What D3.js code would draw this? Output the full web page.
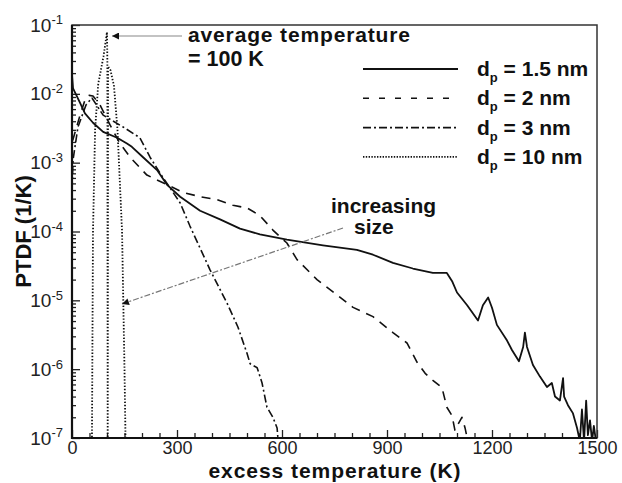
<!DOCTYPE html>
<html>
<head>
<meta charset="utf-8">
<script src="https://cdn.jsdelivr.net/npm/d3@7"></script>
<style>
  body { margin: 0; background: #fff; }
  svg { font-family: "Liberation Sans", Arial, Helvetica, sans-serif; }
  .tick text { font-size: 19px; fill: #222; }
  .bold { font-weight: bold; fill: #111; }
</style>
</head>
<body>
<div id="chart"></div>
<script>
var svgWidth = 622;
var svgHeight = 483;

var margin = { top: 25, right: 25, bottom: 45, left: 72 };
var width = svgWidth - margin.left - margin.right;
var height = svgHeight - margin.top - margin.bottom;

// excess temperature (K) and PTDF (1/K) for each particle diameter
var tempSmall = [0, 3, 23, 37, 60, 89, 129, 157, 171, 203, 243, 271, 309, 366, 423, 480, 537, 614, 717, 814,
  860, 917, 974, 1031, 1071, 1086, 1100, 1129, 1160, 1174, 1189, 1200, 1214, 1243, 1257, 1277, 1289, 1294, 1300,
  1317, 1337, 1357, 1371, 1380, 1394, 1403, 1406, 1417, 1431, 1443, 1451, 1457, 1463, 1469, 1474, 1480, 1486, 1491, 1497];
var ptdfSmall = [1.9e-2, 1.2e-2, 7.4e-3, 5.2e-3, 3.8e-3, 2.8e-3, 2.3e-3, 1.9e-3, 1.7e-3, 1.2e-3, 7.8e-4, 4.8e-4,
  3.2e-4, 2.0e-4, 1.5e-4, 1.1e-4, 9.1e-5, 7.6e-5, 6.3e-5, 5.4e-5, 4.6e-5, 3.5e-5, 2.9e-5, 2.5e-5, 2.5e-5, 1.9e-5,
  1.3e-5, 8.5e-6, 5.1e-6, 8.5e-6, 1.1e-5, 7.8e-6, 4.4e-6, 2.6e-6, 1.9e-6, 1.3e-6, 2.1e-6, 3.4e-6, 2.1e-6, 1.15e-6,
  7.8e-7, 5.5e-7, 6.3e-7, 4.0e-7, 3.5e-7, 7.4e-7, 4.0e-7, 3.0e-7, 2.3e-7, 1.4e-7, 9e-8, 2.6e-7, 9e-8, 3.5e-7,
  1.1e-7, 1.8e-7, 9e-8, 1.5e-7, 9e-8];

var temp2 = [2, 23, 37, 49, 60, 80, 109, 137, 166, 214, 271, 317, 366, 414, 460, 500, 537, 574, 614, 643, 700,
  757, 803, 860, 917, 957, 986, 1009, 1031, 1057, 1071, 1086, 1094, 1114, 1123, 1131];
var ptdf2 = [2.1e-3, 4.9e-3, 8.1e-3, 9.5e-3, 9.3e-3, 6.9e-3, 3.5e-3, 1.9e-3, 1.2e-3, 6.6e-4, 4.8e-4, 3.7e-4,
  3.2e-4, 2.9e-4, 2.4e-4, 2.2e-4, 1.7e-4, 1.05e-4, 6.8e-5, 3.9e-5, 2.0e-5, 1.2e-5, 7.9e-6, 5.8e-6, 3.4e-6, 2.4e-6,
  1.26e-6, 8.7e-7, 6.9e-7, 5.4e-7, 2.8e-7, 2.1e-7, 1.3e-7, 2.0e-7, 1.4e-7, 9e-8];

var temp3 = [0, 3, 17, 40, 57, 89, 146, 194, 223, 251, 280, 309, 337, 394, 443, 474, 500, 509, 529, 543, 557,
  574, 586, 589];
var ptdf3 = [4e-4, 1.1e-3, 3.3e-3, 6.9e-3, 8.7e-3, 4.9e-3, 3.3e-3, 2.3e-3, 1.2e-3, 7.1e-4, 4.3e-4, 2.6e-4,
  1.2e-4, 2.8e-5, 9.1e-6, 4.1e-6, 1.7e-6, 1.2e-6, 1.05e-6, 6.3e-7, 2.8e-7, 2.0e-7, 1.4e-7, 9e-8];

var temp10 = [50, 57, 60, 66, 75, 90, 100, 101, 102, 103, 110, 120, 130, 143, 150, 153];
var ptdf10 = [9e-8, 9e-8, 1e-4, 3e-3, 1.4e-2, 3.5e-2, 7.9e-2, 3e-2, 9e-8, 2.5e-2, 2.2e-2, 1.3e-2, 3e-3, 1e-4,
  1e-6, 9e-8];

var seriesNames = ["1.5 nm", "2 nm", "3 nm", "10 nm"];
var xTicks = [0, 300, 600, 900, 1200, 1500];
var yTicks = [1e-7, 1e-6, 1e-5, 1e-4, 1e-3, 1e-2, 1e-1];

var styles = [
  { dash: null, legendDash: null, w: 1.8 },
  { dash: "9,7", legendDash: "6,10", w: 1.6 },
  { dash: "8,3,2,3", legendDash: "8,3,2,3", w: 1.6 },
  { dash: "1.4,1.8", legendDash: "1.4,1.4", w: 1.8 }
];

var series = [
  d3.zip(tempSmall, ptdfSmall),
  d3.zip(temp2, ptdf2),
  d3.zip(temp3, ptdf3),
  d3.zip(temp10, ptdf10)
];

var svg = d3.select("#chart")
  .append("svg")
  .attr("width", svgWidth)
  .attr("height", svgHeight);

var chartGroup = svg.append("g")
  .attr("transform", `translate(${margin.left}, ${margin.top})`);

var xScale = d3.scaleLinear().domain([0, 1500]).range([0, width]);
var yScale = d3.scaleLog().domain([1e-7, 1e-1]).range([height, 0]);

chartGroup.append("clipPath")
  .attr("id", "plotClip")
  .append("rect")
  .attr("width", width)
  .attr("height", height);

// minor ticks first, so majors sit on top
var xMinor = d3.range(0, 1501, 50).filter(d => d % 300 !== 0);
chartGroup.append("g")
  .attr("transform", `translate(0, ${height})`)
  .call(d3.axisBottom(xScale).tickValues(xMinor).tickSize(-5).tickFormat(""))
  .call(g => g.select(".domain").remove());

var yMinor = [];
for (var e = -7; e < -1; e++) {
  for (var m = 2; m < 10; m++) yMinor.push(m * Math.pow(10, e));
}
chartGroup.append("g")
  .call(d3.axisLeft(yScale).tickValues(yMinor).tickSize(-4).tickFormat(""))
  .call(g => g.select(".domain").remove());

chartGroup.append("g")
  .attr("transform", `translate(0, ${height})`)
  .call(d3.axisBottom(xScale).tickValues(xTicks).tickSize(-8).tickPadding(3).tickFormat(d3.format("d")))
  .call(g => g.select(".domain").remove())
  .call(g => g.selectAll("text").style("font-size", "18px"));

var leftAxis = chartGroup.append("g")
  .call(d3.axisLeft(yScale).tickValues(yTicks).tickSize(-8).tickPadding(9).tickFormat(""))
  .call(g => g.select(".domain").remove());

// 10^n labels with superscript exponent
leftAxis.selectAll(".tick text").each(function(d) {
  var t = d3.select(this);
  t.text("10");
  t.append("tspan")
    .attr("dy", "-0.55em")
    .style("font-size", "13px")
    .text(Math.round(Math.log10(d)));
});

chartGroup.selectAll(".tick line").attr("stroke", "#222").attr("stroke-width", 1.3);

// frame
chartGroup.append("rect")
  .attr("width", width)
  .attr("height", height)
  .attr("fill", "none")
  .attr("stroke", "#333")
  .attr("stroke-width", 1.5);
chartGroup.append("path")
  .attr("d", `M0,0V${height}H${width}`)
  .attr("fill", "none")
  .attr("stroke", "#111")
  .attr("stroke-width", 2.2);

var line = d3.line()
  .x(d => xScale(d[0]))
  .y(d => yScale(d[1]));

chartGroup.append("g")
  .attr("clip-path", "url(#plotClip)")
  .selectAll("path")
  .data(series)
  .enter()
  .append("path")
  .attr("d", line)
  .attr("fill", "none")
  .attr("stroke", "#111")
  .attr("stroke-width", (d, i) => styles[i].w)
  .attr("stroke-dasharray", (d, i) => styles[i].dash)
  .attr("stroke-linejoin", "round");

// legend
var legend = svg.append("g");
seriesNames.forEach(function(name, i) {
  var y = 69 + i * 29.3;
  legend.append("line")
    .attr("x1", 363).attr("x2", 458)
    .attr("y1", y).attr("y2", y)
    .attr("stroke", "#111")
    .attr("stroke-width", styles[i].w)
    .attr("stroke-dasharray", styles[i].legendDash);
  var t = legend.append("text")
    .attr("class", "bold")
    .attr("x", 477)
    .attr("y", y + 7)
    .style("font-size", "21px");
  t.append("tspan").text("d");
  t.append("tspan").attr("dy", 6).style("font-size", "13px").text("p");
  t.append("tspan").attr("dy", -6).text(" = " + name);
});

// arrow markers
var defs = svg.append("defs");
defs.append("marker")
  .attr("id", "arrow")
  .attr("viewBox", "0 0 10 10")
  .attr("refX", 10).attr("refY", 5)
  .attr("markerWidth", 10).attr("markerHeight", 7)
  .attr("markerUnits", "userSpaceOnUse")
  .attr("orient", "auto")
  .append("path")
  .attr("d", "M0,0L10,5L0,10Z")
  .attr("fill", "#111");

// average temperature annotation, pointing at the 10 nm peak
svg.append("line")
  .attr("x1", 182).attr("y1", 36)
  .attr("x2", margin.left + xScale(100) + 5).attr("y2", 36)
  .attr("stroke", "#888")
  .attr("stroke-width", 1.2)
  .attr("marker-end", "url(#arrow)");
svg.append("text").attr("class", "bold").attr("x", 188).attr("y", 42)
  .attr("textLength", 222)
  .style("font-size", "21px").text("average temperature");
svg.append("text").attr("class", "bold").attr("x", 188).attr("y", 66)
  .style("font-size", "21.5px").text("= 100 K");

// increasing size annotation
svg.append("line")
  .attr("x1", 343).attr("y1", 228)
  .attr("x2", 122).attr("y2", 304)
  .attr("stroke", "#777")
  .attr("stroke-width", 1.2)
  .attr("stroke-dasharray", "6,2,2,2")
  .attr("marker-end", "url(#arrow)");
svg.append("text").attr("class", "bold").attr("x", 331).attr("y", 213)
  .style("font-size", "21px").text("increasing");
svg.append("text").attr("class", "bold").attr("x", 354).attr("y", 234)
  .style("font-size", "21px").text("size");

// axis titles
svg.append("text")
  .attr("class", "bold")
  .attr("x", margin.left + width / 2)
  .attr("y", 478)
  .attr("text-anchor", "middle")
  .attr("textLength", 252)
  .style("font-size", "21px")
  .text("excess temperature (K)");

svg.append("text")
  .attr("class", "bold")
  .attr("transform", `translate(31, ${margin.top + height / 2}) rotate(-90)`)
  .attr("text-anchor", "middle")
  .style("font-size", "22px")
  .text("PTDF (1/K)");
</script>
</body>
</html>
